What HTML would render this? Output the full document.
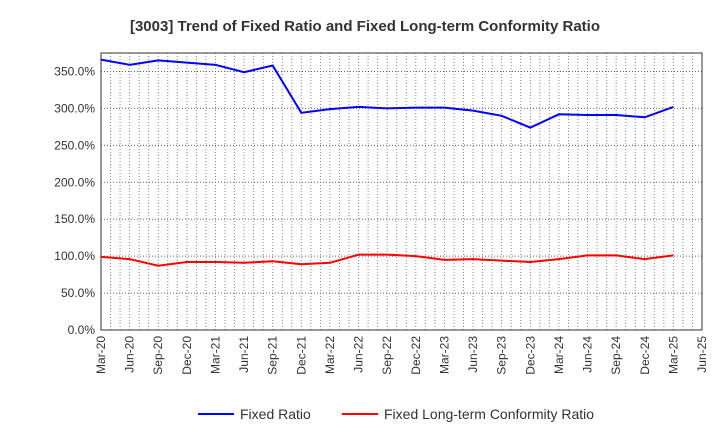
<!DOCTYPE html>
<html><head><meta charset="utf-8"><style>
body{margin:0;background:#fff;font-family:"Liberation Sans",sans-serif}
</style></head><body>
<svg id="c" width="720" height="440" xmlns="http://www.w3.org/2000/svg"></svg>
<script>
const categories=["Mar-20","Jun-20","Sep-20","Dec-20","Mar-21","Jun-21","Sep-21","Dec-21","Mar-22","Jun-22","Sep-22","Dec-22","Mar-23","Jun-23","Sep-23","Dec-23","Mar-24","Jun-24","Sep-24","Dec-24","Mar-25","Jun-25"];
const fixedRatio=[366,359,365,362,359,349,358,294,299,302,300,301,301,297,290,274,292,291,291,288,302];
const conformityRatio=[99,96,87,92,92,91,93,89,91,102,102,100,95,96,94,92,96,101,101,96,101];
const yTicks=[0,50,100,150,200,250,300,350];
const NS="http://www.w3.org/2000/svg",svg=document.getElementById('c');
const L=101,R=702,T=53,B=330,YMAX=375;
const xs=i=>L+(R-L)*i/(categories.length-1);
const ys=v=>B-(B-T)*v/YMAX;
function mk(t,a,p){const e=document.createElementNS(NS,t);for(const k in a)e.setAttribute(k,a[k]);(p||svg).appendChild(e);return e;}
const title=mk('text',{x:365,y:31,'text-anchor':'middle','font-size':15,'font-weight':'bold',fill:'#333'});


title.textContent='[3003]  Trend of Fixed Ratio and Fixed Long-term Conformity Ratio';
const grid=mk('g',{});


for(let m=1;m<(categories.length-1)*3;m++){const x=L+(R-L)*m/((categories.length-1)*3);mk('line',{x1:x,x2:x,y1:T,y2:B,stroke:'#888','stroke-dasharray':'1,2','stroke-width':1},grid);}
yTicks.forEach(v=>{if(v>0)mk('line',{x1:L,x2:R,y1:ys(v),y2:ys(v),stroke:'#666','stroke-dasharray':'1,2'},grid);
const t=mk('text',{x:L-6,y:ys(v)+4,'text-anchor':'end','font-size':12,fill:'#333'});


t.textContent=v.toFixed(1)+'%';});
categories.forEach((c,i)=>{const x=xs(i);const t=mk('text',{transform:`translate(${x+4},${B+6}) rotate(-90)`,'text-anchor':'end','font-size':12,fill:'#333'});


t.textContent=c;});
const frame=mk('rect',{x:L,y:T,width:R-L,height:B-T,fill:'none',stroke:'#333'});


function line(d,col,name){const p=mk('polyline',{points:d.map((v,i)=>xs(i)+','+ys(v)).join(' '),fill:'none',stroke:col,'stroke-width':2});

}
line(fixedRatio,'#0000ff','fixed-ratio-line');
line(conformityRatio,'#ff0000','conformity-ratio-line');
function leg(x,col,txt,name){const g=mk('g',{});


mk('line',{x1:x,x2:x+36,y1:414,y2:414,stroke:col,'stroke-width':2},g);
const t=mk('text',{x:x+42,y:419,'font-size':14,fill:'#333'},g);t.textContent=txt;}
leg(198,'#0000ff','Fixed Ratio','legend-fixed-ratio');
leg(342,'#ff0000','Fixed Long-term Conformity Ratio','legend-conformity-ratio');
</script>
</body></html>
